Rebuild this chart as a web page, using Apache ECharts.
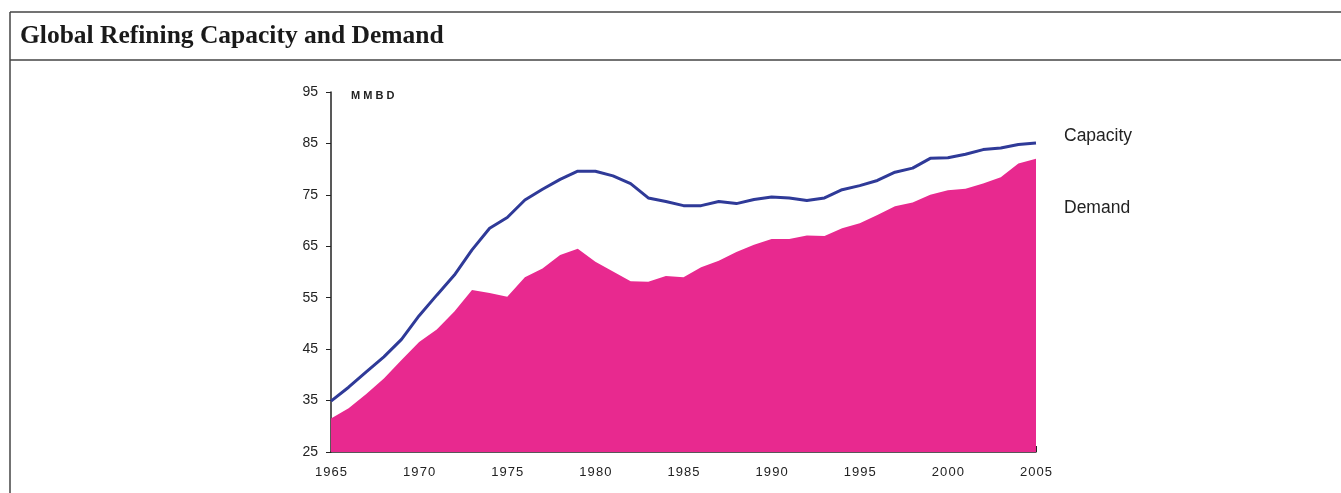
<!DOCTYPE html>
<html lang="en">
<head>
    <meta charset="UTF-8">
    <title>Global Refining Capacity and Demand</title>
    <script src="https://cdn.jsdelivr.net/npm/echarts@6/dist/echarts.min.js"></script>
    <style>
        html, body { margin: 0; padding: 0; background: #fff; }
        #main { width: 1341px; height: 493px; }
    </style>
</head>
<body>
    <div id="main"></div>
    <script type="text/javascript">
        // years on the x axis
        var years = [1965, 1966, 1967, 1968, 1969, 1970, 1971, 1972, 1973, 1974,
                     1975, 1976, 1977, 1978, 1979, 1980, 1981, 1982, 1983, 1984,
                     1985, 1986, 1987, 1988, 1989, 1990, 1991, 1992, 1993, 1994,
                     1995, 1996, 1997, 1998, 1999, 2000, 2001, 2002, 2003, 2004, 2005];
        // refining capacity, MMBD
        var capacity = [34.9, 37.6, 40.6, 43.5, 46.9, 51.5, 55.5, 59.4, 64.3, 68.5,
                        70.6, 74.0, 76.1, 78.0, 79.6, 79.6, 78.7, 77.2, 74.4, 73.7,
                        72.9, 72.9, 73.7, 73.3, 74.1, 74.6, 74.4, 73.9, 74.4, 76.0,
                        76.8, 77.8, 79.4, 80.2, 82.1, 82.2, 82.9, 83.8, 84.1, 84.8, 85.1];
        // oil demand, MMBD
        var demand = [31.5, 33.5, 36.3, 39.3, 42.9, 46.4, 48.8, 52.3, 56.5, 55.9,
                      55.2, 59.0, 60.7, 63.3, 64.5, 62.0, 60.1, 58.2, 58.1, 59.2,
                      59.0, 60.9, 62.2, 63.9, 65.3, 66.4, 66.4, 67.1, 67.0, 68.5,
                      69.5, 71.1, 72.8, 73.5, 75.0, 75.9, 76.2, 77.2, 78.4, 81.1, 82.0];

        function pairs(vals) {
            return years.map(function (y, i) { return [y, vals[i]]; });
        }

        var myChart = echarts.init(document.getElementById('main'));
        var axisFont = 'Liberation Sans, Arial, sans-serif';

        myChart.setOption({
            animation: false,
            backgroundColor: '#fff',
            grid: { left: 331, right: 305, top: 92, bottom: 41 },
            xAxis: {
                type: 'value',
                min: 1965,
                max: 2005,
                interval: 5,
                splitLine: { show: false },
                axisLine: { lineStyle: { color: '#222', width: 1.5 } },
                axisTick: { inside: true, length: 6, lineStyle: { color: '#222' } },
                axisLabel: {
                    margin: 14,
                    fontSize: 13,
                    color: '#222',
                    fontFamily: axisFont,
                    formatter: function (v) { return String(v).split('').join('\u200a'); }
                }
            },
            yAxis: {
                type: 'value',
                min: 25,
                max: 95,
                interval: 10,
                splitLine: { show: false },
                axisLine: { show: true, lineStyle: { color: '#222', width: 1.5 } },
                axisTick: { show: true, length: 5, lineStyle: { color: '#222' } },
                axisLabel: { margin: 13, fontSize: 14, color: '#222', fontFamily: axisFont }
            },
            series: [
                {
                    name: 'Demand',
                    type: 'line',
                    data: pairs(demand),
                    showSymbol: false,
                    lineStyle: { width: 0 },
                    itemStyle: { color: '#e8298f' },
                    areaStyle: { color: '#e8298f', opacity: 1, origin: 'start' },
                    z: 2
                },
                {
                    name: 'Capacity',
                    type: 'line',
                    data: pairs(capacity),
                    showSymbol: false,
                    lineStyle: { width: 3, color: '#2f3a98' },
                    itemStyle: { color: '#2f3a98' },
                    z: 3
                }
            ],
            graphic: [
                // frame around the panel
                { type: 'line', shape: { x1: 10, y1: 12, x2: 1341, y2: 12 }, style: { stroke: '#444', lineWidth: 1.5 } },
                { type: 'line', shape: { x1: 10, y1: 12, x2: 10, y2: 493 }, style: { stroke: '#444', lineWidth: 1.5 } },
                { type: 'line', shape: { x1: 10, y1: 60, x2: 1341, y2: 60 }, style: { stroke: '#444', lineWidth: 1.5 } },
                {
                    type: 'text', left: 20, top: 23,
                    style: {
                        text: 'Global Refining Capacity and Demand',
                        font: 'bold 25.5px "Liberation Serif", "Times New Roman", serif',
                        fill: '#1a1a1a'
                    }
                },
                {
                    type: 'text', left: 351, top: 90,
                    style: {
                        text: 'M M B D',
                        font: 'bold 11px "Liberation Sans", Arial, sans-serif',
                        fill: '#222'
                    }
                },
                {
                    type: 'text', left: 1064, top: 127,
                    style: { text: 'Capacity', font: '17.5px "Liberation Sans", Arial, sans-serif', fill: '#222' }
                },
                {
                    type: 'text', left: 1064, top: 199,
                    style: { text: 'Demand', font: '17.5px "Liberation Sans", Arial, sans-serif', fill: '#222' }
                }
            ]
        });
    </script>
</body>
</html>
